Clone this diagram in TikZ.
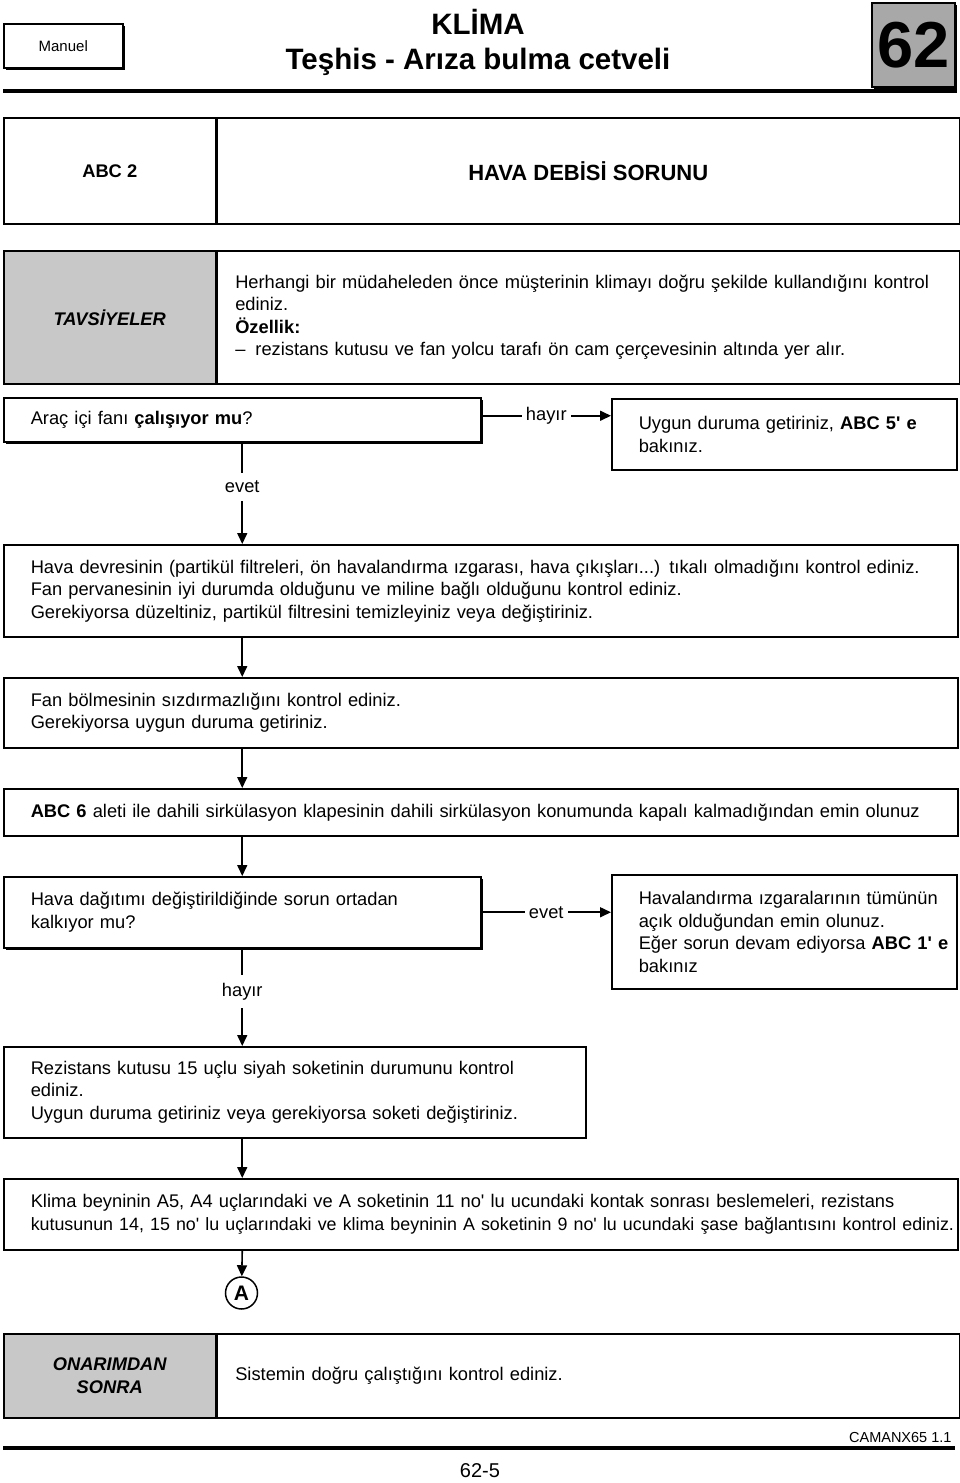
\documentclass[tikz,border=0pt]{standalone}
\usepackage{fontspec}
\setmainfont{Liberation Sans}
\usetikzlibrary{positioning, arrows.meta, shadows}

\definecolor{cellgray}{RGB}{200,200,200}
\definecolor{tabgray}{RGB}{168,168,168}
\newcommand{\bodyfont}{\fontsize{18.3}{22.5}\selectfont}
\newcommand{\tq}{\textquotesingle}

\begin{document}
\begin{tikzpicture}[x=1pt,y=-1pt,>={Triangle[length=11pt,width=10pt]},
    every node/.style={font=\bodyfont},
    cell/.style={draw, line width=1.5pt, anchor=north west, inner sep=0pt},
    stepbox/.style={draw, line width=1.5pt, fill=white, anchor=north west, inner xsep=2pt, inner ysep=0pt,
        align=left, execute at begin node={\leftskip=#1\relax}},
    stepbox/.default=25pt,
    askbox/.style={stepbox, drop shadow={shadow xshift=2pt, shadow yshift=-2pt, opacity=1, fill=black}},
    flow/.style={->, line width=1.6pt},
    lbl/.style={fill=white, inner xsep=4pt, inner ysep=2pt},
    vlbl/.style={lbl, inner ysep=8pt, pos=0.44}]
                \tikzstyle{title}=[font=\fontsize{29.5}{32}\selectfont\bfseries]
                \useasboundingbox (0,0) rectangle (960,1483);

                % header
                \node[cell, fill=white, minimum width=119pt, minimum height=44pt, font=\fontsize{15}{17}\selectfont,
                    drop shadow={shadow xshift=2pt, shadow yshift=-2pt, opacity=1, fill=black}] (manuel) at (3,23) {Manuel};
                \node[title] (baslik1) at (478,22) {KLİMA};
                \node[title] (baslik2) at (478,62) {Teşhis - Arıza bulma cetveli};
                \node[cell, fill=tabgray, minimum width=83pt, minimum height=84pt, font=\fontsize{65}{65}\selectfont\bfseries,
                    drop shadow={shadow xshift=2pt, shadow yshift=-2pt, opacity=1, fill=black}] (bolum) at (871,2) {62};
                \draw[line width=4pt] (3,91) -- (957,91);

                \node[cell, minimum width=212pt, minimum height=106pt, font=\bodyfont\bfseries] (kod) at (3,117) {ABC 2};
                \node[cell, minimum width=742pt, minimum height=106pt, font=\fontsize{22}{26}\selectfont\bfseries,
                    right=0pt of kod] (sorun) {HAVA DEBİSİ SORUNU};

                \node[cell, fill=cellgray, minimum width=212pt, minimum height=133pt, font=\bodyfont\bfseries\itshape] (tavsiye) at (3,250) {TAVSİYELER};
                \node[stepbox=16pt, text width=738pt, minimum height=133pt, right=0pt of tavsiye] (uyari)
                    {Herhangi bir müdaheleden önce müşterinin klimayı doğru şekilde kullandığını kontrol\\
                     ediniz.\\\textbf{Özellik:}\\–\hspace{10pt}rezistans kutusu ve fan yolcu tarafı ön cam çerçevesinin altında yer alır.};

                % flow
                \node[askbox, text width=473pt, minimum height=44pt] (fan) at (3,397) {Araç içi fanı \textbf{çalışıyor mu}?};
                \node[stepbox, text width=341pt, minimum height=71pt] (onar) at (611,398)
                    {Uygun duruma getiriniz, \textbf{ABC 5\tq{} e}\\bakınız.};
                \node[stepbox, text width=950pt, minimum height=92pt] (devre) at (3,544)
                    {Hava devresinin (partikül filtreleri, ön havalandırma ızgarası, hava çıkışları...) tıkalı olmadığını kontrol ediniz.\\
                     Fan pervanesinin iyi durumda olduğunu ve miline bağlı olduğunu kontrol ediniz.\\
                     Gerekiyorsa düzeltiniz, partikül filtresini temizleyiniz veya değiştiriniz.};
                \node[stepbox, text width=950pt, minimum height=70pt] (bolme) at (3,677)
                    {Fan bölmesinin sızdırmazlığını kontrol ediniz.\\Gerekiyorsa uygun duruma getiriniz.};
                \node[stepbox, text width=950pt, minimum height=47pt] (klape) at (3,788)
                    {\textbf{ABC 6} aleti ile dahili sirkülasyon klapesinin dahili sirkülasyon konumunda kapalı kalmadığından emin olunuz};
                \node[askbox, text width=473pt, minimum height=71pt] (dagitim) at (3,876)
                    {Hava dağıtımı değiştirildiğinde sorun ortadan\\kalkıyor mu?};
                \node[stepbox, text width=341pt, minimum height=114pt] (izgara) at (611,874)
                    {Havalandırma ızgaralarının tümünün\\açık olduğundan emin olunuz.\\
                     Eğer sorun devam ediyorsa \textbf{ABC 1\tq{} e}\\bakınız};
                \node[stepbox, text width=578pt, minimum height=91pt] (soket) at (3,1046)
                    {Rezistans kutusu 15 uçlu siyah soketinin durumunu kontrol\\ediniz.\\
                     Uygun duruma getiriniz veya gerekiyorsa soketi değiştiriniz.};
                \node[stepbox, text width=950pt, minimum height=71pt] (besleme) at (3,1178)
                    {\mbox{Klima beyninin A5, A4 uçlarındaki ve A soketinin 11 no\tq{} lu ucundaki kontak sonrası beslemeleri, rezistans}\\
                     \mbox{\fontsize{17.85}{22.5}\selectfont kutusunun 14, 15 no\tq{} lu uçlarındaki ve klima beyninin A soketinin 9 no\tq{} lu ucundaki şase bağlantısını kontrol ediniz.}};
                \node[circle, draw, line width=1.5pt, minimum size=32pt, inner sep=0pt, font=\fontsize{21}{21}\selectfont\bfseries] (devam) at (241.5,1293) {A};

                \node[cell, fill=cellgray, minimum width=212pt, minimum height=84pt, align=center,
                    font=\bodyfont\bfseries\itshape] (onarim) at (3,1333) {ONARIMDAN\\SONRA};
                \node[stepbox=16pt, text width=738pt, minimum height=84pt, right=0pt of onarim] (kontrol)
                    {Sistemin doğru çalıştığını kontrol ediniz.};

                \draw[flow] ([yshift=4pt]fan.east) -- node[lbl]{hayır} ([yshift=4pt]fan.east -| onar.west);
                \draw[flow] (fan.south) -- node[vlbl]{evet} (devre.north -| fan.south);
                \draw[flow] (devre.south -| fan.south) -- (bolme.north -| fan.south);
                \draw[flow] (bolme.south -| fan.south) -- (klape.north -| fan.south);
                \draw[flow] (klape.south -| fan.south) -- (dagitim.north);
                \draw[flow] (dagitim.east) -- node[lbl]{evet} (dagitim.east -| izgara.west);
                \draw[flow] (dagitim.south) -- node[vlbl]{hayır} (soket.north -| dagitim.south);
                \draw[flow] (soket.south -| dagitim.south) -- (besleme.north -| dagitim.south);
                \draw[flow] (besleme.south -| dagitim.south) -- (devam);

                % footer
                \node[anchor=east, font=\fontsize{14.5}{17}\selectfont] (belge) at (955,1437) {CAMANX65 1.1};
                \draw[line width=4pt] (3,1448) -- (955,1448);
                \node[font=\fontsize{20}{24}\selectfont] (sayfa) at (480,1471) {62-5};
            \end{tikzpicture}
\end{document}
